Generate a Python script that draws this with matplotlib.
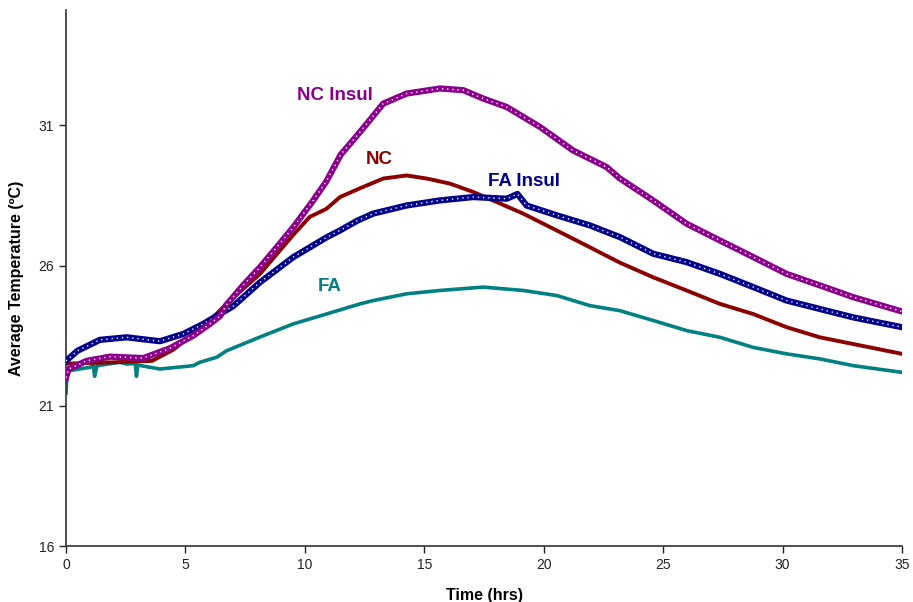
import matplotlib
matplotlib.use("Agg")
import matplotlib.pyplot as plt

plt.rcParams['font.family'] = ['Liberation Sans', 'DejaVu Sans']

# ---- data ----
t_fa_insul = [0.0, 0.48, 1.42, 2.54, 3.93, 4.91, 5.75, 6.4, 7.0, 8.12, 9.52, 10.9, 11.47, 12.2,
              12.86, 14.26, 15.65, 17.05, 18.45, 18.9, 19.28, 20.54, 21.93, 23.19, 24.58,
              25.98, 27.38, 28.77, 30.17, 31.56, 32.96, 35.0]
v_fa_insul = [22.6, 22.96, 23.35, 23.44, 23.3, 23.56, 23.92, 24.25, 24.55, 25.4, 26.3, 27.0, 27.25, 27.6,
              27.85, 28.14, 28.32, 28.44, 28.38, 28.55, 28.14, 27.79, 27.43, 27.01, 26.42,
              26.12, 25.7, 25.23, 24.75, 24.45, 24.15, 23.8]

t_nc_insul = [0.0, 0.1, 0.86, 1.84, 3.24, 4.35, 5.33, 6.03, 6.45, 6.72, 7.42, 8.12, 8.82, 9.52,
              10.35, 10.9, 11.5, 12.3, 13.28, 14.26, 15.65, 16.63, 17.47, 18.45, 19.84,
              21.23, 22.63, 23.19, 24.58, 25.98, 27.38, 28.77, 30.17, 31.56, 32.96, 35.0]
v_nc_insul = [22.0, 22.3, 22.6, 22.75, 22.7, 23.05, 23.5, 23.92, 24.2, 24.6, 25.3, 25.94, 26.65, 27.37,
              28.32, 29.0, 29.95, 30.75, 31.77, 32.13, 32.31, 32.25, 31.95, 31.65, 30.94,
              30.1, 29.51, 29.1, 28.32, 27.49, 26.89, 26.3, 25.7, 25.29, 24.87, 24.36]

t_nc = [0.0, 2.0, 3.6, 4.5, 5.2, 6.1, 6.72, 8.12, 9.52, 10.2, 10.9, 11.47, 12.3, 13.28, 14.26,
        15.1, 16.07, 17.05, 18.03, 19.14, 20.54, 21.93, 23.19, 24.58, 25.98, 27.38, 28.77,
        30.17, 31.56, 32.96, 35.0]
v_nc = [22.5, 22.55, 22.6, 23.0, 23.5, 24.1, 24.64, 25.7, 27.1, 27.73, 28.02, 28.44, 28.75, 29.1, 29.21,
        29.1, 28.92, 28.62, 28.26, 27.85, 27.25, 26.65, 26.1, 25.58, 25.11, 24.63, 24.27,
        23.8, 23.44, 23.2, 22.85]

t_fa = [0.0, 0.05, 0.12, 1.0, 1.14, 1.2, 1.3, 2.26, 2.54, 2.9, 2.95, 3.0, 3.93, 4.63, 5.33, 5.6,
        6.31, 6.72, 8.12, 9.52, 10.9, 12.3, 12.86, 14.26, 15.65, 17.47, 19.14, 20.54, 21.93,
        23.19, 24.58, 25.98, 27.38, 28.77, 30.17, 31.56, 32.96, 35.0]
v_fa = [21.45, 22.2, 22.25, 22.37, 22.43, 22.05, 22.43, 22.55, 22.49, 22.5, 22.05, 22.45, 22.31, 22.37,
        22.43, 22.55, 22.73, 22.96, 23.45, 23.92, 24.27, 24.63, 24.75, 24.99, 25.11, 25.23,
        25.11, 24.93, 24.57, 24.39, 24.04, 23.68, 23.44, 23.08, 22.85, 22.67, 22.43, 22.19]

labels = ["NC Insul", "NC", "FA Insul", "FA"]
label_pos_t = [11.26, 13.12, 19.19, 11.05]
label_pos_v = [32.07, 29.79, 29.0, 25.25]

x_ticks = [0, 5, 10, 15, 20, 25, 30, 35]
y_ticks = [16, 21, 26, 31]

c_nc_insul = "#8B008B"
c_nc = "#8B0000"
c_fa_insul = "#00008B"
c_fa = "#008080"
label_colors = [c_nc_insul, c_nc, c_fa_insul, c_fa]

fig = plt.figure(figsize=(9.13, 6.02), dpi=100)
ax = fig.add_axes([0.0723, 0.093, 0.9157, 0.89])

ax.plot(t_fa, v_fa, color=c_fa, lw=2.6, zorder=2)
ax.plot(t_nc, v_nc, color=c_nc, lw=2.8, zorder=3)
ax.plot(t_fa_insul, v_fa_insul, color=c_fa_insul, lw=4.5, zorder=4)
ax.plot(t_fa_insul, v_fa_insul, color="white", lw=1.1, ls=(0, (0.8, 2.6)), zorder=5)
ax.plot(t_nc_insul, v_nc_insul, color=c_nc_insul, lw=4.5, zorder=6)
ax.plot(t_nc_insul, v_nc_insul, color="white", lw=1.1, ls=(0, (0.8, 2.6)), zorder=7)

for lab, tx, ty, col in zip(labels, label_pos_t, label_pos_v, label_colors):
    ax.text(tx, ty, lab, color=col, fontsize=13.5, fontweight='bold', ha='center', va='center')

ax.set_xlim(0, 35)
ax.set_ylim(16, 35.1)
ax.set_xticks(x_ticks)
ax.set_yticks(y_ticks)
ax.tick_params(axis='both', direction='out', length=5, width=1, labelsize=10, colors='#222222')
ax.spines['top'].set_visible(False)
ax.spines['right'].set_visible(False)
for s in ('left', 'bottom'):
    ax.spines[s].set_color('#333333')
    ax.spines[s].set_linewidth(1.2)

ax.set_xlabel("Time (hrs)", fontsize=11.5, fontweight='bold', labelpad=12)
ax.set_ylabel("Average Temperature (ºC)", fontsize=11.5, fontweight='bold')
ax.yaxis.set_label_coords(-0.05, 0.5)

fig.savefig("out.png", dpi=100)
